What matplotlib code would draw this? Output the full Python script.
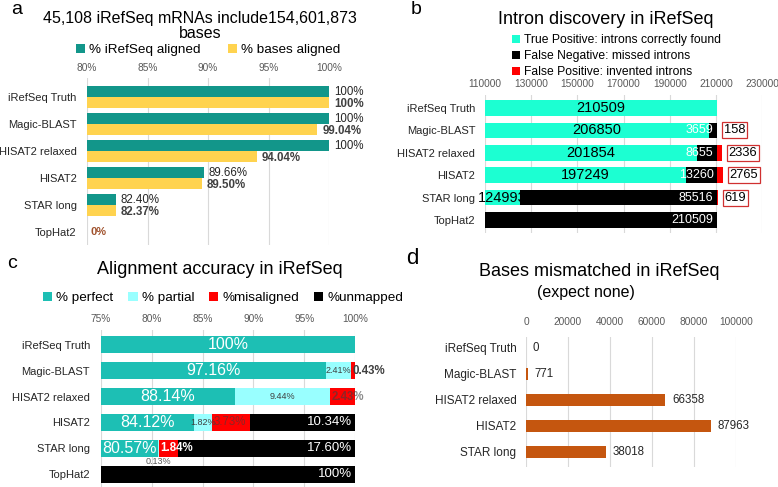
import matplotlib
matplotlib.use("Agg")
import matplotlib.pyplot as plt
import numpy as np

plt.rcParams['font.family'] = ['Liberation Sans', 'DejaVu Sans']

# data
categories = ["iRefSeq Truth", "Magic-BLAST", "HISAT2 relaxed", "HISAT2", "STAR long", "TopHat2"]

# panel a
pct_refseq_aligned = [100, 100, 100, 89.66, 82.40, 0]
pct_bases_aligned = [100, 99.04, 94.04, 89.50, 82.37, 0]

# panel b
true_pos = [210509, 206850, 201854, 197249, 124993, 0]
false_neg = [0, 3659, 8655, 13260, 85516, 210509]
false_pos = [0, 158, 2336, 2765, 619, 0]

# panel c
perfect = [100, 97.16, 88.14, 84.12, 80.57, 0]
partial = [0, 2.41, 9.44, 1.82, 0.13, 0]
misaligned = [0, 0.43, 2.43, 3.73, 1.84, 0]
unmapped = [0, 0, 0, 10.34, 17.60, 100]

# panel d
categories_d = categories[:5]
mismatched = [0, 771, 66358, 87963, 38018]

W, H = 778, 487
fig = plt.figure(figsize=(W / 100, H / 100), dpi=100)


def axes_px(left, top, right, bottom):
    return fig.add_axes([left / W, 1 - bottom / H, (right - left) / W, (bottom - top) / H])


def style(ax, pad_tick, pad_cat, fs_cat=8):
    for s in ax.spines.values():
        s.set_visible(False)
    ax.xaxis.tick_top()
    ax.tick_params(axis='x', length=0, labelsize=7.3, labelcolor='#595959', pad=pad_tick)
    ax.tick_params(axis='y', length=0, labelsize=fs_cat, labelcolor='#262626', pad=pad_cat)
    ax.grid(axis='x', color='#d9d9d9', lw=0.8)
    ax.set_axisbelow(True)


def pct(v):
    return "100%" if v == 100 else ("0%" if v == 0 else f"{v:.2f}%")


# ---------------- a ----------------
ax = axes_px(87, 78, 329, 245)
y = np.arange(len(categories))
ax.barh(y - 0.2, pct_refseq_aligned, height=0.4, color='#12968a', label='% iRefSeq aligned')
ax.barh(y + 0.2, pct_bases_aligned, height=0.4, color='#ffd34f', label='% bases aligned')
ax.set_xlim(80, 100)
ax.set_ylim(5.48, -0.70)
ax.set_xticks(range(80, 101, 5))
ax.set_xticklabels([f"{t}%" for t in range(80, 101, 5)])
ax.set_yticks(y)
ax.set_yticklabels(categories)
style(ax, 3.5, 7.5)
for i in range(len(categories)):
    a, b = pct_refseq_aligned[i], pct_bases_aligned[i]
    if a == 0 and b == 0:
        ax.text(80.3, i, "0%", va='center', ha='left', fontsize=8, color='#a0522d', weight='bold')
        continue
    ax.text(a + 0.4, i - 0.2, pct(a), va='center', ha='left', fontsize=8.3, color='#262626')
    ax.text(b + 0.4, i + 0.25, pct(b), va='center', ha='left', fontsize=8.3, color='#404040', weight='bold')
fig.legend(*ax.get_legend_handles_labels(), loc='center', bbox_to_anchor=(208 / W, 1 - 50 / H),
           ncol=2, frameon=False, fontsize=9.7, handlelength=0.7, handleheight=0.7,
           handletextpad=0.3, columnspacing=2.0, borderaxespad=0, borderpad=0)
fig.text(200 / W, 1 - 26 / H, "45,108 iRefSeq mRNAs include154,601,873\nbases", ha='center', va='center',
         fontsize=11.5, linespacing=1.05)
fig.text(17 / W, 1 - 10 / H, "a", ha='center', va='center', fontsize=14)

# ---------------- b ----------------
ax = axes_px(485, 95, 762, 233)
tp = np.array(true_pos)
fn = np.array(false_neg)
fp = np.array(false_pos)
ax.barh(y, tp, height=0.7, color='#1cffd2', label='True Positive: introns correctly found')
ax.barh(y, fn, left=tp, height=0.7, color='black', label='False Negative: missed introns')
ax.barh(y, fp, left=tp + fn, height=0.7, color='#ff0000', label='False Positive: invented introns')
ax.set_xlim(110000, 230000)
ax.set_ylim(5.58, -0.58)
ax.set_xticks(range(110000, 230001, 20000))
ax.set_yticks(y)
ax.set_yticklabels(categories)
style(ax, 4, 7)
for i in range(len(categories)):
    if tp[i] > 0:
        ax.text((110000 + tp[i]) / 2, i, str(tp[i]), ha='center', va='center', fontsize=10.5, color='black')
    if fn[i] > 0:
        ax.text(tp[i] + fn[i] - 1500, i, str(fn[i]), ha='right', va='center', fontsize=9, color='white')
    if fp[i] > 0:
        ax.annotate(str(fp[i]), (tp[i] + fn[i] + fp[i], i), xytext=(4.5, 0), textcoords='offset points',
                    ha='left', va='center', fontsize=9.3, color='black',
                    bbox=dict(boxstyle='square,pad=0.15', fc='white', ec='#d03030', lw=0.9))
fig.legend(*ax.get_legend_handles_labels(), loc='upper left', bbox_to_anchor=(512 / W, 1 - 34 / H),
           frameon=False, fontsize=8.7, handlelength=0.7, handleheight=0.7, handletextpad=0.3,
           labelspacing=0.35, borderaxespad=0, borderpad=0)
fig.text(606 / W, 1 - 20 / H, "Intron discovery in iRefSeq", ha='center', va='center', fontsize=13)
fig.text(416 / W, 1 - 9 / H, "b", ha='center', va='center', fontsize=14)

# ---------------- c ----------------
ax = axes_px(101, 330, 355, 487)
p = np.array(perfect)
q = np.array(partial)
m = np.array(misaligned)
u = np.array(unmapped)
ax.barh(y, p, height=0.66, color='#1dbfb4', label='% perfect')
ax.barh(y, q, left=p, height=0.66, color='#99ffff', label='% partial')
ax.barh(y, m, left=p + q, height=0.66, color='#ff0000', label='%misaligned')
ax.barh(y, u, left=p + q + m, height=0.66, color='black', label='%unmapped')
ax.set_xlim(75, 100)
ax.set_ylim(5.5, -0.58)
ax.set_xticks(range(75, 101, 5))
ax.set_xticklabels([f"{t}%" for t in range(75, 101, 5)])
ax.set_yticks(y)
ax.set_yticklabels(categories)
style(ax, 4, 8)
mis_colors = ['#404040', '#404040', '#404040', '#404040', 'white']
mis_alpha = [1, 1, 0.6, 0.6, 1]
mis_weight = ['bold', 'bold', 'bold', 'normal', 'bold']
for i in range(len(categories)):
    if p[i] > 0:
        ax.text((75 + p[i]) / 2, i, pct(p[i]), ha='center', va='center', fontsize=11.5, color='white')
    if q[i] > 0:
        if q[i] < 0.5:
            ax.text(p[i] + q[i] / 2, i + 0.5, pct(q[i]), ha='center', va='center', fontsize=6.5, color='#595959')
        else:
            ax.text(p[i] + q[i] / 2, i, pct(q[i]), ha='center', va='center', fontsize=6.5, color='#404040')
    if m[i] > 0:
        ax.text(p[i] + q[i] + 0.15, i, pct(m[i]), ha='left', va='center', fontsize=8.3,
                color=mis_colors[i], alpha=mis_alpha[i], weight=mis_weight[i])
    if u[i] > 0:
        ax.text(99.7, i, pct(u[i]), ha='right', va='center', fontsize=9.5, color='white')
fig.legend(*ax.get_legend_handles_labels(), loc='center', bbox_to_anchor=(223 / W, 1 - 298 / H),
           ncol=4, frameon=False, fontsize=9.7, handlelength=0.7, handleheight=0.7,
           handletextpad=0.3, columnspacing=1.1, borderaxespad=0, borderpad=0)
fig.text(220 / W, 1 - 270 / H, "Alignment accuracy in iRefSeq", ha='center', va='center', fontsize=13)
fig.text(12 / W, 1 - 263 / H, "c", ha='center', va='center', fontsize=14)

# ---------------- d ----------------
ax = axes_px(526, 337, 736, 467)
yd = np.arange(len(categories_d))
ax.barh(yd, mismatched, height=0.47, color='#c5560f')
ax.set_xlim(0, 100000)
ax.set_ylim(4.58, -0.42)
ax.set_xticks(range(0, 100001, 20000))
ax.set_yticks(yd)
ax.set_yticklabels(categories_d)
style(ax, 7.5, 7, fs_cat=8.5)
for i, v in enumerate(mismatched):
    ax.annotate(str(v), (v, i), xytext=(5, 0), textcoords='offset points', ha='left', va='center',
                fontsize=8.3, color='#262626')
fig.text(599 / W, 1 - 271 / H, "Bases mismatched in iRefSeq", ha='center', va='center', fontsize=13)
fig.text(586 / W, 1 - 293 / H, "(expect none)", ha='center', va='center', fontsize=11.5)
fig.text(412 / W, 1 - 258 / H, "d", ha='center', va='center', fontsize=16)

fig.savefig("out.png", dpi=100)
